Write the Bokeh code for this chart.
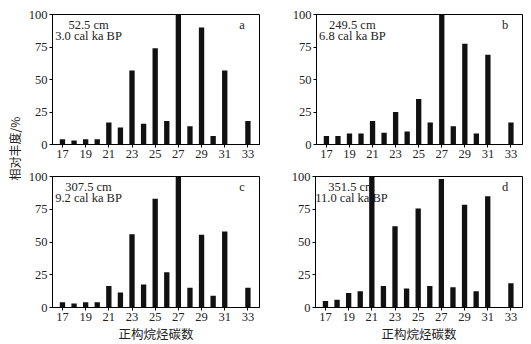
import math
from bokeh.plotting import figure
from bokeh.layouts import row, column
from bokeh.models import ColumnDataSource, FixedTicker, Range1d
from bokeh.core.properties import value
from bokeh.embed import file_html
from bokeh.resources import INLINE

carbon = list(range(17, 34))
tick_labels = [17, 19, 21, 23, 25, 27, 29, 31, 33]
y_ticks = [0, 25, 50, 75, 100]

vals_a = [4, 3, 4, 4, 17, 13, 57, 16, 74, 18, 100, 14, 90, 6.5, 57, 0, 18]
vals_b = [6.5, 6.5, 8.5, 8.5, 18, 9, 25, 10, 35, 17, 100, 14, 77.5, 8.5, 69, 0, 17]
vals_c = [4, 3, 4, 4, 16.5, 11.5, 56, 17.5, 83, 27, 100, 15, 55.5, 9, 58, 0, 15]
vals_d = [5, 6, 11, 12.5, 100, 16.5, 62, 14.5, 75.5, 16.5, 98, 15.5, 78.5, 12.5, 85, 0, 18.5]

depths = ["52.5 cm", "249.5 cm", "307.5 cm", "351.5 cm"]
ages = ["3.0 cal ka BP", "6.8 cal ka BP", "9.2 cal ka BP", "11.0 cal ka BP"]
letters = ["a", "b", "c", "d"]

y_title = "相对丰度/%"
x_title = "正构烷烃碳数"

SERIF = "Liberation Serif"
CJK = "Noto Sans CJK SC"


def panel(vals, depth, age, letter, fw, fh, bl, br, bt, bb, xlabel):
    p = figure(frame_width=fw, frame_height=fh, output_backend="svg", toolbar_location=None,
               x_range=Range1d(16.14, 34.0), y_range=Range1d(0, 100),
               min_border_left=bl, min_border_right=br, min_border_top=bt, min_border_bottom=bb)
    p.xgrid.visible = False
    p.ygrid.visible = False
    p.outline_line_color = "black"
    p.outline_line_width = 1
    p.background_fill_color = "white"
    p.border_fill_color = "white"

    src = ColumnDataSource(dict(x=[19.25, 19.25, 32.5], y=[92.3, 83.6, 92.0],
                                t=[depth, age, letter]))
    p.text(x="x", y="y", text="t", source=src, text_align="center", text_baseline="middle",
           text_font=value(SERIF), text_font_size="12.5px", text_color="#222222")

    p.vbar(x=carbon, top=vals, width=0.46, bottom=0, fill_color="#111111", line_color=None)

    p.xaxis.ticker = FixedTicker(ticks=tick_labels)
    p.yaxis.ticker = FixedTicker(ticks=y_ticks)
    for ax in (p.xaxis[0], p.yaxis[0]):
        ax.major_label_text_font = SERIF
        ax.major_label_text_font_size = "12.5px"
        ax.major_label_text_color = "#222222"
        ax.axis_line_color = "black"
        ax.major_tick_line_color = "black"
        ax.major_tick_in = 0
        ax.major_tick_out = 3
        ax.minor_tick_line_color = None
    p.xaxis.major_label_standoff = 2
    p.yaxis.major_label_standoff = 2
    if xlabel:
        p.xaxis.axis_label = x_title
        p.xaxis.axis_label_text_font = CJK
        p.xaxis.axis_label_text_font_size = "12.5px"
        p.xaxis.axis_label_text_font_style = "normal"
        p.xaxis.axis_label_text_color = "#222222"
        p.xaxis.axis_label_standoff = 0
    return p


pa = panel(vals_a, depths[0], ages[0], letters[0], 207, 130, 28, 6, 14, 21, False)
pb = panel(vals_b, depths[1], ages[1], letters[1], 206, 130, 51, 9, 14, 21, False)
pc = panel(vals_c, depths[2], ages[2], letters[2], 207, 131, 28, 6, 11, 30, True)
pd = panel(vals_d, depths[3], ages[3], letters[3], 207, 131, 50, 9, 11, 30, True)

lab = figure(width=24, height=344, output_backend="svg", toolbar_location=None,
             x_range=Range1d(0, 1), y_range=Range1d(0, 1),
             min_border_left=0, min_border_right=0, min_border_top=0, min_border_bottom=0)
lab.axis.visible = False
lab.grid.visible = False
lab.outline_line_color = None
lab.text(x=[14 / 24], y=[1 - 148 / 344], text=[y_title], angle=math.pi / 2,
         text_align="center", text_baseline="middle",
         text_font=value(CJK), text_font_size="12px", text_color="#222222")

layout = row(lab, column(row(pa, pb), row(pc, pd)))

open("out.html", "w").write(file_html(layout, INLINE))
